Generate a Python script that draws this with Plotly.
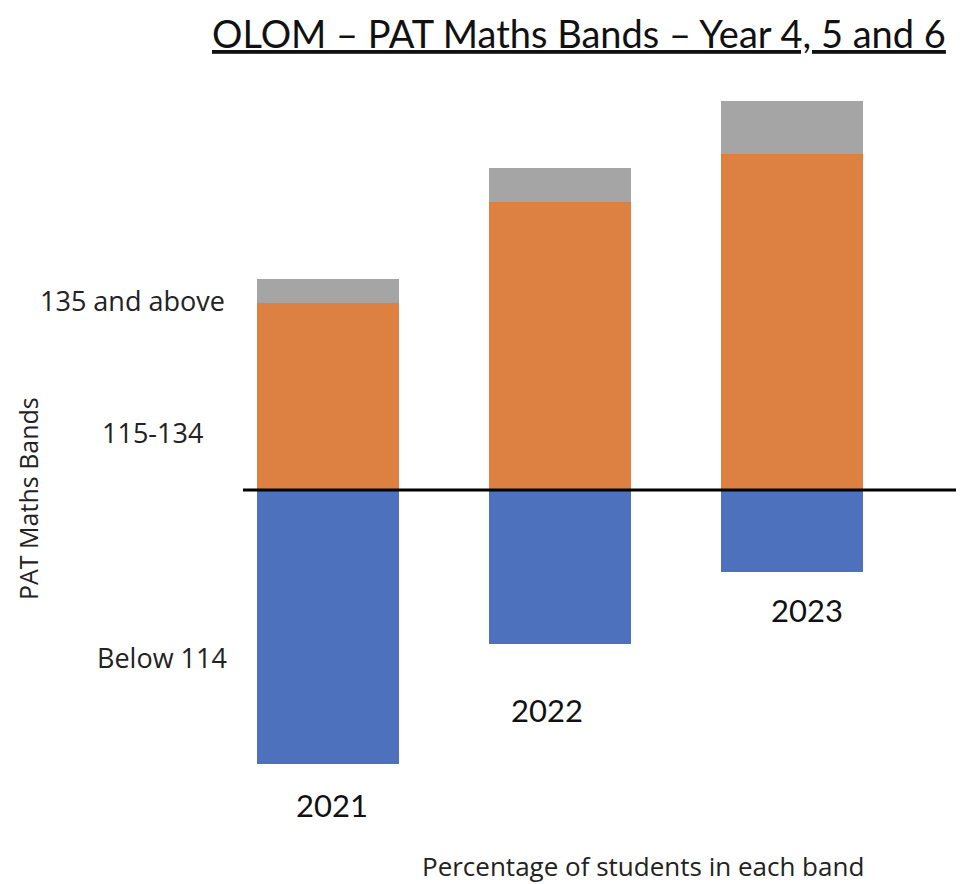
import plotly.graph_objects as go

years = ["2021", "2022", "2023"]
below_114 = [-57, -32, -17]
band_115_134 = [39, 60, 70]
above_135 = [5, 7, 11]
band_labels = ["135 and above", "115-134", "Below 114"]

OFF = 8  # page body margin
W, H = 964 - OFF, 884 - OFF
ML, MR, MT, MB = 212 - OFF, 0, 90 - OFF, 84
PW, PH = W - ML - MR, H - MT - MB
Y0 = 490 - OFF          # pixel of zero line within figure
SCALE = 4.8             # pixels per percent

def px(x):
    return (x - OFF - ML) / PW

def py(y):
    return (H - MB - (y - OFF)) / PH

fig = go.Figure()
fig.add_trace(go.Bar(x=years, y=below_114, name=band_labels[2], marker_color="#4E71BE", width=0.61, marker_line_width=0))
fig.add_trace(go.Bar(x=years, y=band_115_134, name=band_labels[1], marker_color="#DD8143", width=0.61, marker_line_width=0))
fig.add_trace(go.Bar(x=years, y=above_135, name=band_labels[0], marker_color="#A5A5A5", width=0.61, marker_line_width=0))

ann = []
lab_font = dict(family="Open Sans, sans-serif", size=27, color="#222")
# year labels (page pixel centres)
year_pos = [(332, 805), (547, 710), (807, 610)]
for yr, (xp, yp) in zip(years, year_pos):
    ann.append(dict(x=px(xp), y=py(yp), xref="paper", yref="paper", text=yr, showarrow=False,
                    xanchor="center", yanchor="middle",
                    font=dict(family="Lato, Open Sans, sans-serif", size=31, color="#111")))
# band labels
ann.append(dict(x=px(227), y=py(300), xref="paper", yref="paper", text=band_labels[0], showarrow=False,
                xanchor="right", yanchor="middle", font=lab_font))
ann.append(dict(x=px(152), y=py(432), xref="paper", yref="paper", text=band_labels[1], showarrow=False,
                xanchor="center", yanchor="middle", font=lab_font))
ann.append(dict(x=px(229), y=py(657), xref="paper", yref="paper", text=band_labels[2], showarrow=False,
                xanchor="right", yanchor="middle", font=lab_font))
# axis titles
ann.append(dict(x=px(28), y=py(499), xref="paper", yref="paper", text="PAT Maths Bands", showarrow=False,
                xanchor="center", yanchor="middle", textangle=-90, borderpad=0,
                font=dict(family="Open Sans, sans-serif", size=25, color="#222")))
ann.append(dict(x=px(643), y=py(866), xref="paper", yref="paper", text="Percentage of students in each band",
                showarrow=False, xanchor="center", yanchor="middle",
                font=dict(family="Open Sans, sans-serif", size=26, color="#222")))
# title
ann.append(dict(x=px(948), y=py(33), xref="paper", yref="paper", xanchor="right", yanchor="middle",
                text="<u>OLOM – PAT Maths Bands – Year 4, 5 and 6</u>", showarrow=False,
                font=dict(family="Lato, sans-serif", size=38, color="#111")))

fig.update_layout(
    width=W, height=H,
    margin=dict(l=ML, r=MR, t=MT, b=MB, pad=0),
    barmode="relative",
    bargap=0,
    paper_bgcolor="white", plot_bgcolor="white",
    showlegend=False,
    annotations=ann,
    shapes=[dict(type="line", xref="paper", yref="y", x0=px(243), x1=1, y0=0, y1=0,
                 line=dict(color="black", width=3))],
    xaxis=dict(type="category", range=[-0.5, 2.74], showticklabels=False, showgrid=False,
               zeroline=False, showline=False, ticks=""),
    yaxis=dict(range=[-(H - MB - Y0) / SCALE, (Y0 - MT) / SCALE], showticklabels=False, showgrid=False,
               zeroline=False, showline=False, ticks=""),
)

fig.write_html("out.html")
